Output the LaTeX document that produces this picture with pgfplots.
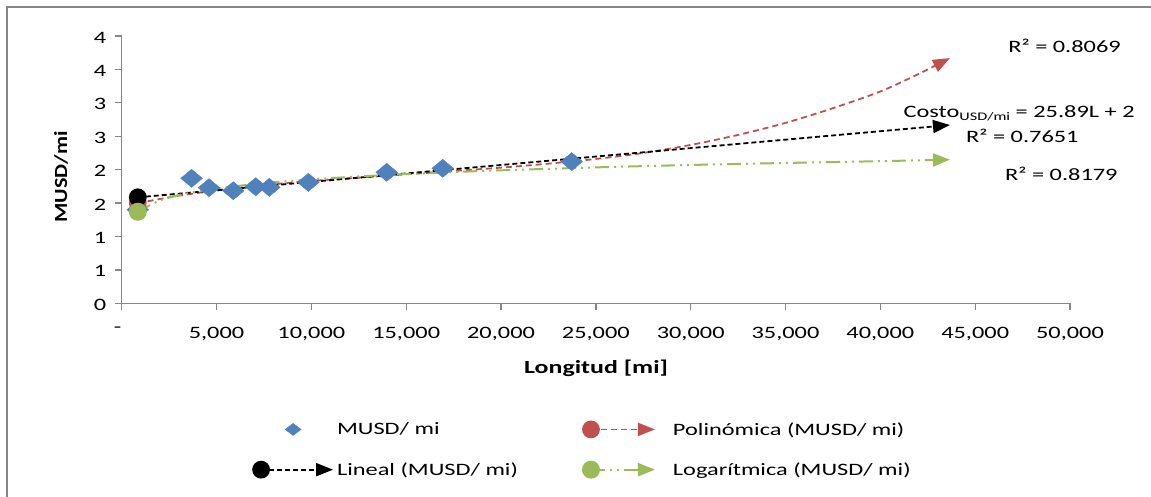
\documentclass[border=0pt]{standalone}
\usepackage{fontspec}
\setmainfont{Carlito}[FakeStretch=1.4]
\newfontfamily\ylabfont{Carlito}[FakeStretch=1.2]
\usepackage{pgfplots}
\pgfplotsset{compat=1.18}
\usetikzlibrary{arrows.meta}
\definecolor{xblue}{HTML}{4F81BD}
\definecolor{xred}{HTML}{C0504D}
\definecolor{xgreen}{HTML}{9BBB59}
\definecolor{axgray}{HTML}{868686}
\pgfplotstableread{
x y
850 1.40
3685 1.87
4603 1.73
5885 1.685
7065 1.745
7783 1.735
9840 1.81
13972 1.96
16925 2.02
23726 2.12
}\datatab
\pgfplotstableread{
x y
850 1.50
2000 1.56
3000 1.61
5000 1.69
7500 1.77
10000 1.83
12500 1.88
15000 1.93
17500 1.98
20000 2.03
22500 2.09
25000 2.16
27500 2.25
30000 2.37
32500 2.52
35000 2.70
37500 2.92
40000 3.17
42000 3.43
43670 3.67
}\polytab
\pgfplotstableread{
x y
850 1.586
43670 2.668
}\lintab
\pgfplotstableread{
x y
850 1.37
2000 1.538
3000 1.618
4000 1.674
5000 1.718
7500 1.798
10000 1.854
12500 1.898
15000 1.934
17500 1.964
20000 1.990
25000 2.034
30000 2.070
35000 2.100
40000 2.127
43670 2.150
}\logtab
\begin{document}
\begin{tikzpicture}
\useasboundingbox (-121.7pt,-192.7pt) rectangle (1029.3pt,303.3pt);
\draw[axgray,line width=1.4pt] (-114.7pt,-200pt) -- (-114.7pt,296.3pt) -- (1040pt,296.3pt);
\begin{axis}[
  at={(0pt,0pt)}, anchor=south west,
  width=948.3pt, height=267.3pt, scale only axis,
  xmin=0, xmax=50000, ymin=0, ymax=4,
  scaled x ticks=false, scaled y ticks=false,
  axis x line*=bottom, axis y line*=left,
  axis line style={axgray,line width=1.3pt},
  every tick/.style={axgray,line width=1.3pt},
  major tick length=7pt, tick align=outside,
  xtick={0,5000,10000,15000,20000,25000,30000,35000,40000,45000,50000},
  xticklabels={{\hspace*{-8pt}-},{5,000},{10,000},{15,000},{20,000},{25,000},{30,000},{35,000},{40,000},{45,000},{50,000}},
  ytick={0,0.5,1,1.5,2,2.5,3,3.5,4},
  yticklabels={0,1,1,2,2,3,3,4,4},
  tick label style={font=\fontsize{17.4}{20}\selectfont, text=black},
  xticklabel style={yshift=-13pt},
  yticklabel style={xshift=-5pt, yshift=-1.5pt},
  xlabel={Longitud [mi]},
  ylabel={\ylabfont\bfseries MUSD/mi},
  xlabel style={font=\fontsize{18.5}{20}\selectfont\bfseries, at={(axis description cs:0.5002,-0.242)}, anchor=center},
  ylabel style={font=\fontsize{18.5}{20}\selectfont, at={(axis description cs:-0.064,0.473)}, anchor=center, rotate=0},
  clip=false,
  legend columns=2,
  legend cell align=left,
  legend style={draw=none, fill=none, inner sep=0pt,
    font=\fontsize{17.4}{20}\selectfont,
    at={(axis description cs:0.1374,-0.437)}, anchor=north west,
    /tikz/every even column/.append style={column sep=62pt},
    row sep=22pt},
]
\addplot[only marks, mark=square*, mark size=6.4pt, color=xblue,
  mark options={xscale=1.2, rotate=45},
  legend image code/.code={\path[draw=none,fill=none] (0pt,0pt) -- (82pt,0pt);
    \fill[xblue,solid] (40pt,6pt) -- (48pt,0pt) -- (40pt,-6pt) -- (32pt,0pt) -- cycle;}]
  table[x=x,y=y] {\datatab};
\addlegendentry{MUSD/ mi}
\addplot[smooth, color=xred, line width=1.8pt, dash pattern=on 6pt off 4pt,
  -{Triangle[length=17pt,width=13pt]},
  mark=*, mark indices={1}, mark size=8pt, mark options={solid},
  legend image code/.code={
    \path[draw=none,fill=none] (0pt,0pt) -- (88pt,0pt);
    \draw[xred, line width=1.8pt, dash pattern=on 6pt off 4pt, -{Triangle[length=17pt,width=13pt]}] (8pt,0pt) -- (72pt,0pt);
    \fill[xred,solid] (8pt,0pt) circle (8pt);}]
  table[x=x,y=y] {\polytab};
\addlegendentry{Polinómica (MUSD/ mi)}
\addplot[color=black, line width=1.8pt, dash pattern=on 5pt off 3pt,
  -{Triangle[length=17pt,width=13pt]},
  mark=*, mark indices={1}, mark size=8pt, mark options={solid},
  legend image code/.code={
    \draw[black, line width=1.8pt, dash pattern=on 5pt off 3pt, -{Triangle[length=17pt,width=13pt]}] (8pt,0pt) -- (80pt,0pt);
    \fill[black,solid] (8pt,0pt) circle (8pt);}]
  table[x=x,y=y] {\lintab};
\addlegendentry{Lineal (MUSD/ mi)}
\addplot[smooth, color=xgreen, line width=2pt, dash pattern=on 14pt off 5pt on 2pt off 5pt on 2pt off 5pt,
  -{Triangle[length=17pt,width=13pt]},
  mark=*, mark indices={1}, mark size=8pt, mark options={solid},
  legend image code/.code={
    \path[draw=none,fill=none] (0pt,0pt) -- (88pt,0pt);
    \draw[xgreen, line width=2pt, dash pattern=on 14pt off 5pt on 2pt off 5pt on 2pt off 5pt, -{Triangle[length=17pt,width=13pt]}] (8pt,0pt) -- (72pt,0pt);
    \fill[xgreen,solid] (8pt,0pt) circle (8pt);}]
  table[x=x,y=y] {\logtab};
\addlegendentry{Logarítmica (MUSD/ mi)}
\node[anchor=base west, font=\fontsize{17.4}{20}\selectfont] at (axis cs:46562,3.750) {R² = 0.8069};
\node[anchor=base west, font=\fontsize{17.4}{20}\selectfont] at (axis cs:41036,2.783) {Costo\raisebox{-3.5pt}{\fontsize{11.6}{12}\selectfont USD/mi} = 25.89L + 2};
\node[anchor=base west, font=\fontsize{17.4}{20}\selectfont] at (axis cs:44337,2.403) {R² = 0.7651};
\node[anchor=base west, font=\fontsize{17.4}{20}\selectfont] at (axis cs:46393,1.845) {R² = 0.8179};
\end{axis}
\end{tikzpicture}
\end{document}
